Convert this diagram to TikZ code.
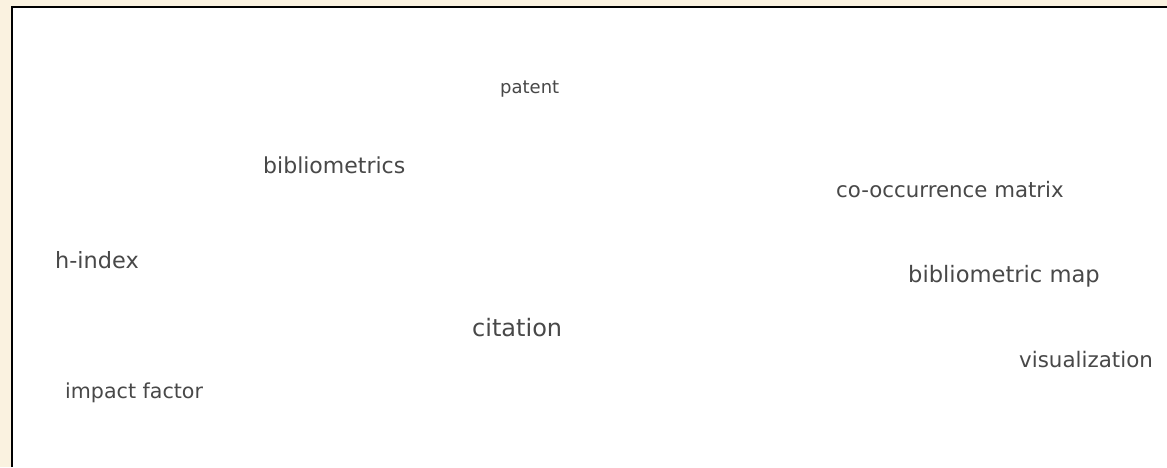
\documentclass[tikz,border=0pt]{standalone}
\usepackage{fontspec}
\setmainfont{DejaVu Sans}
\usetikzlibrary{positioning}
\definecolor{creambg}{RGB}{250, 242, 224}
\definecolor{termgray}{RGB}{72, 72, 72}
\newcommand{\tagsize}[1]{\fontsize{#1}{#1}\selectfont}

\begin{document}
\begin{tikzpicture}[x=1pt, y=-1pt,
    term/.style={anchor=base west, inner sep=0pt, text=termgray}]
  % Frame
  \useasboundingbox (0,0) rectangle (1167,467);
  \fill[creambg] (0,0) rectangle (1167,467);
  \fill[white] (12,7) rectangle (1167,467);
  \draw[line width=2.5pt] (12,467) -- (12,7) -- (1167,7);

  % Terms
  \node[term, font=\tagsize{18}] (patent) at (500,93) {patent};
  \node[term, font=\tagsize{22}] (bibliometrics) at (263,173) {bibliometrics};
  \node[term, font=\tagsize{21.3}] (cooccurrence) at (836,197) {co-occurrence matrix};
  \node[term, font=\tagsize{22.4}] (hindex) at (55,268) {h-index};
  \node[term, font=\tagsize{22.6}] (bibmap) at (908,282) {bibliometric map};
  \node[term, font=\tagsize{24}] (citation) at (472,336) {citation};
  \node[term, font=\tagsize{21.4}] (visualization) at (1019,367) {visualization};
  \node[term, font=\tagsize{20.6}] (impact) at (65,398) {impact factor};
\end{tikzpicture}
\end{document}
